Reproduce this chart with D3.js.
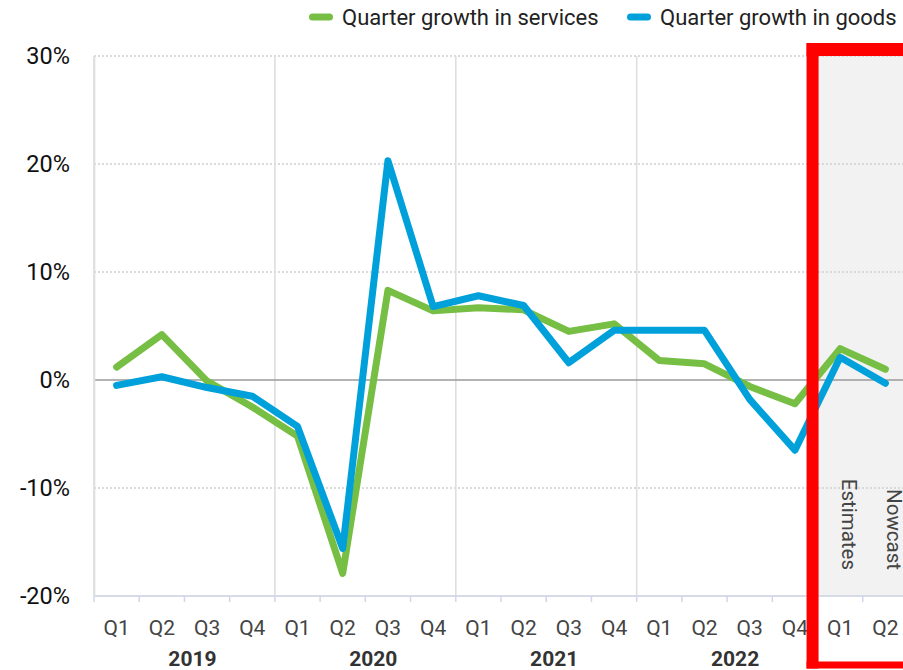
<!DOCTYPE html>
<html>
<head>
<meta charset="utf-8">
<style>
  body { margin: 0; background: #fff; }
  text { font-family: Roboto, "Noto Sans", sans-serif; }
</style>
<title>Quarter growth in services and goods</title>
</head>
<body>
<script src="https://cdn.jsdelivr.net/npm/d3@7"></script>
<script>
  // categories
  const quarters = ["Q1","Q2","Q3","Q4","Q1","Q2","Q3","Q4","Q1","Q2","Q3","Q4","Q1","Q2","Q3","Q4","Q1","Q2"];
  const years = ["2019","2020","2021","2022"];
  const yTicks = [-20, -10, 0, 10, 20, 30];

  // series values (%)
  const services = [1.2, 4.2, -0.1, -2.5, -5.2, -17.9, 8.3, 6.4, 6.7, 6.5, 4.5, 5.2, 1.8, 1.5, -0.6, -2.2, 2.9, 1.0];
  const goods    = [-0.5, 0.3, -0.7, -1.5, -4.3, -15.6, 20.3, 6.8, 7.8, 6.9, 1.6, 4.6, 4.6, 4.6, -1.8, -6.5, 2.1, -0.3];

  const shadedFrom = 16; // first estimate/nowcast quarter
  const shadeLabels = ["Estimates", "Nowcast"];

  const W = 903, H = 670;
  const plotLeft = 94, plotRight = 908, plotTop = 56, plotBottom = 596;

  const svg = d3.select("body").append("svg")
    .attr("width", W).attr("height", H);

  const idx = quarters.map((d, i) => i);
  const x = d3.scaleBand().domain(idx).range([plotLeft, plotRight]);
  const y = d3.scaleLinear().domain([-20, 30]).range([plotBottom, plotTop]);
  const bw = x.bandwidth();

  // shaded area for estimates / nowcast
  svg.append("rect")
    .attr("x", x(shadedFrom)).attr("y", y(30))
    .attr("width", plotRight - x(shadedFrom)).attr("height", y(-20) - y(30))
    .attr("fill", "#f2f2f2");

  // horizontal dotted grid
  svg.append("g").selectAll("line")
    .data(yTicks.filter(d => d !== 0 && d !== -20))
    .enter().append("line")
    .attr("x1", plotLeft).attr("x2", W)
    .attr("y1", d => y(d)).attr("y2", d => y(d))
    .attr("stroke", "#cfcfcf").attr("stroke-width", 1.3)
    .attr("stroke-dasharray", "2,2");

  // vertical year separators
  svg.append("g").selectAll("line")
    .data(years.map((d, i) => i * 4))
    .enter().append("line")
    .attr("x1", d => x(d)).attr("x2", d => x(d))
    .attr("y1", y(30)).attr("y2", y(-20))
    .attr("stroke", "#dedede").attr("stroke-width", 1.6);

  // zero line
  svg.append("line")
    .attr("x1", plotLeft).attr("x2", W)
    .attr("y1", y(0)).attr("y2", y(0))
    .attr("stroke", "#9a9a9a").attr("stroke-width", 1.4);

  // bottom axis line + ticks at band edges
  svg.append("line")
    .attr("x1", plotLeft).attr("x2", W)
    .attr("y1", y(-20)).attr("y2", y(-20))
    .attr("stroke", "#d6dbe6").attr("stroke-width", 2);
  svg.append("g").selectAll("line")
    .data(idx)
    .enter().append("line")
    .attr("x1", d => x(d)).attr("x2", d => x(d))
    .attr("y1", y(-20)).attr("y2", y(-20) + 6)
    .attr("stroke", "#cdd8ec").attr("stroke-width", 1.5);

  // quarter labels via axis
  const xAxis = svg.append("g")
    .attr("transform", "translate(0," + y(-20) + ")")
    .call(d3.axisBottom(x).tickSize(0).tickFormat(d => quarters[d]));
  xAxis.select(".domain").remove();
  xAxis.selectAll(".tick text")
    .attr("font-size", 21).attr("fill", "#444")
    .attr("font-family", "Roboto, sans-serif")
    .attr("dy", null).attr("y", 39);

  // year labels
  svg.append("g").selectAll("text")
    .data(years)
    .enter().append("text")
    .attr("x", (d, i) => x(i * 4 + 2) + 8)
    .attr("y", 666)
    .attr("text-anchor", "middle")
    .attr("font-size", 21).attr("font-weight", "bold").attr("fill", "#333")
    .text(d => d);

  // y labels
  const yAxis = svg.append("g")
    .attr("transform", "translate(" + plotLeft + ",0)")
    .call(d3.axisLeft(y).tickValues(yTicks).tickSize(0).tickPadding(24).tickFormat(d => d + "%"));
  yAxis.select(".domain").attr("stroke", "#dedede").attr("stroke-width", 1.6);
  yAxis.selectAll("text")
    .attr("font-size", 23.5).attr("fill", "#111")
    .attr("font-family", "Roboto, sans-serif");

  // lines
  const line = d3.line()
    .x((d, i) => x(i) + bw / 2)
    .y(d => y(d));

  svg.append("path").datum(services)
    .attr("d", line).attr("fill", "none")
    .attr("stroke", "#77bf44").attr("stroke-width", 7)
    .attr("stroke-linejoin", "round").attr("stroke-linecap", "round");

  svg.append("path").datum(goods)
    .attr("d", line).attr("fill", "none")
    .attr("stroke", "#00a1db").attr("stroke-width", 7)
    .attr("stroke-linejoin", "round").attr("stroke-linecap", "round");

  // estimates / nowcast labels
  svg.append("g").selectAll("text")
    .data(shadeLabels)
    .enter().append("text")
    .attr("transform", (d, i) => "translate(" + (x(shadedFrom + i) + bw / 2 + 8.5) + ",570) rotate(90)")
    .attr("text-anchor", "end")
    .attr("dominant-baseline", "central")
    .attr("font-size", 20.5).attr("fill", "#444")
    .text(d => d);

  // red highlight box
  const xr = x(shadedFrom);
  svg.append("rect").attr("x", xr - 11).attr("y", 43).attr("width", W - xr + 11).attr("height", 13).attr("fill", "#ff0000");
  svg.append("rect").attr("x", xr - 11).attr("y", 43).attr("width", 12).attr("height", 668.5 - 43).attr("fill", "#ff0000");
  svg.append("rect").attr("x", xr - 11).attr("y", 661.5).attr("width", W - xr + 11).attr("height", 7).attr("fill", "#ff0000");

  // legend
  const legend = [
    {name: "Quarter growth in services", color: "#77bf44", x: 309},
    {name: "Quarter growth in goods", color: "#00a1db", x: 627}
  ];
  const lg = svg.append("g").selectAll("g").data(legend).enter().append("g");
  lg.append("line")
    .attr("x1", d => d.x + 3.5).attr("x2", d => d.x + 20.5)
    .attr("y1", 17).attr("y2", 17)
    .attr("stroke", d => d.color).attr("stroke-width", 7).attr("stroke-linecap", "round");
  lg.append("text")
    .attr("x", d => d.x + 33).attr("y", 17)
    .attr("dominant-baseline", "central")
    .attr("font-size", 22).attr("fill", "#222")
    .text(d => d.name);
</script>
</body>
</html>
